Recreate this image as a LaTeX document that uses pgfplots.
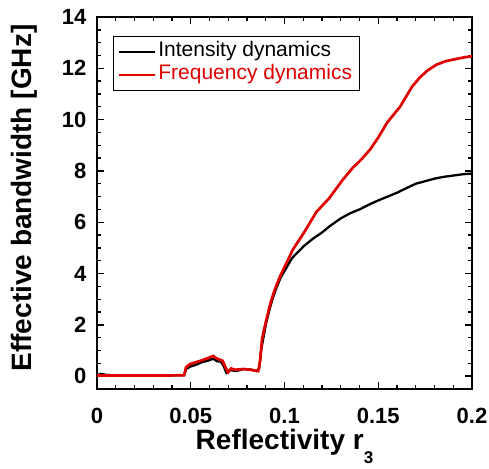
\documentclass[border=0pt]{standalone}
\usepackage{pgfplots}
\pgfplotsset{compat=1.18}
\usepackage{fontspec}
\setmainfont{Liberation Sans}
\definecolor{fredred}{HTML}{E00000}

\begin{document}
\begin{tikzpicture}
\begin{axis}[
  name=ax,
  scale only axis, width=375pt, height=372pt,
  xmin=0, xmax=0.2, ymin=-0.5, ymax=14,
  xtick={0,0.05,0.1,0.15,0.2}, xticklabels={0,0.05,0.1,0.15,0.2},
  ytick={0,2,...,14}, yticklabels={0,2,4,6,8,10,12,14},
  minor x tick num=4, minor y tick num=3,
  tick align=inside, major tick length=7pt, minor tick length=4pt,
  axis line style={line width=1.8pt}, every tick/.style={line width=1.4pt, black},
  tick label style={font=\fontsize{22}{24}\selectfont\bfseries},
  xticklabel style={yshift=-16pt},
  yticklabel style={xshift=-7pt},
  legend cell align=left,
  legend style={at={(0.043,0.949)}, anchor=north west, draw=black, line width=0.9pt,
    font=\fontsize{21}{23}\selectfont, row sep=0pt, inner xsep=5pt, inner ysep=4pt,
    nodes={text height=15pt, text depth=5pt, inner ysep=1.5pt}},
  legend image code/.code={\draw[#1, line width=1.8pt] (0pt,0pt) -- (36pt,0pt);},
]
\addplot[black, line width=2.3pt] coordinates {
  (0,0.03) (0.002,0.09) (0.005,0.05) (0.01,0.03) (0.02,0.03) (0.03,0.03) (0.04,0.03)
  (0.0465,0.04) (0.0475,0.28) (0.05,0.38) (0.053,0.45) (0.056,0.55) (0.059,0.6)
  (0.062,0.68) (0.064,0.58) (0.066,0.57) (0.0675,0.4) (0.069,0.13) (0.071,0.24)
  (0.074,0.2) (0.078,0.27) (0.082,0.26) (0.085,0.2) (0.0865,0.3) (0.0875,1.0)
  (0.0885,1.4) (0.09,2.0) (0.092,2.6) (0.094,3.1) (0.096,3.5) (0.098,3.85) (0.1,4.1)
  (0.104,4.6) (0.11,5.05) (0.115,5.35) (0.12,5.6) (0.124,5.84) (0.13,6.15) (0.135,6.35)
  (0.14,6.5) (0.146,6.72) (0.15,6.85) (0.155,7.0) (0.16,7.15) (0.165,7.33) (0.17,7.5)
  (0.175,7.6) (0.18,7.7) (0.185,7.77) (0.19,7.82) (0.195,7.87) (0.2,7.9)};
\addlegendentry{Intensity dynamics}
\addplot[fredred, line width=2.7pt] coordinates {
  (0,0.03) (0.01,0.03) (0.02,0.03) (0.03,0.03) (0.04,0.03) (0.0465,0.04) (0.0475,0.35)
  (0.0496,0.47) (0.053,0.55) (0.0565,0.63) (0.059,0.7) (0.062,0.79) (0.064,0.68)
  (0.067,0.6) (0.0685,0.35) (0.0699,0.15) (0.0715,0.3) (0.0736,0.25) (0.078,0.28)
  (0.0816,0.25) (0.086,0.2) (0.087,0.6) (0.088,1.44) (0.09,2.1) (0.092,2.7) (0.094,3.2)
  (0.096,3.6) (0.098,3.95) (0.1,4.25) (0.1045,4.94) (0.11,5.55) (0.117,6.4) (0.124,6.95)
  (0.131,7.65) (0.1365,8.13) (0.141,8.45) (0.1456,8.83) (0.150,9.3) (0.1547,9.88)
  (0.1616,10.5) (0.168,11.28) (0.172,11.63) (0.176,11.9) (0.181,12.14) (0.186,12.28)
  (0.192,12.37) (0.196,12.43) (0.2,12.47)};
\addlegendentry{\textcolor{fredred}{Frequency dynamics}}
\end{axis}
\node[anchor=base, font=\fontsize{28}{30}\selectfont\bfseries]
  at ([yshift=-60pt]ax.south) {Reflectivity r\raisebox{-14pt}{\fontsize{17}{17}\selectfont 3}};
\node[anchor=base, rotate=90, font=\fontsize{28}{30}\selectfont\bfseries]
  at ([xshift=-65pt,yshift=5pt]ax.west) {Effective bandwidth [GHz]};
\pgfresetboundingbox
\path ([xshift=-97pt,yshift=-79pt]ax.south west) rectangle ([xshift=17pt,yshift=17pt]ax.north east);
\end{tikzpicture}
\end{document}
